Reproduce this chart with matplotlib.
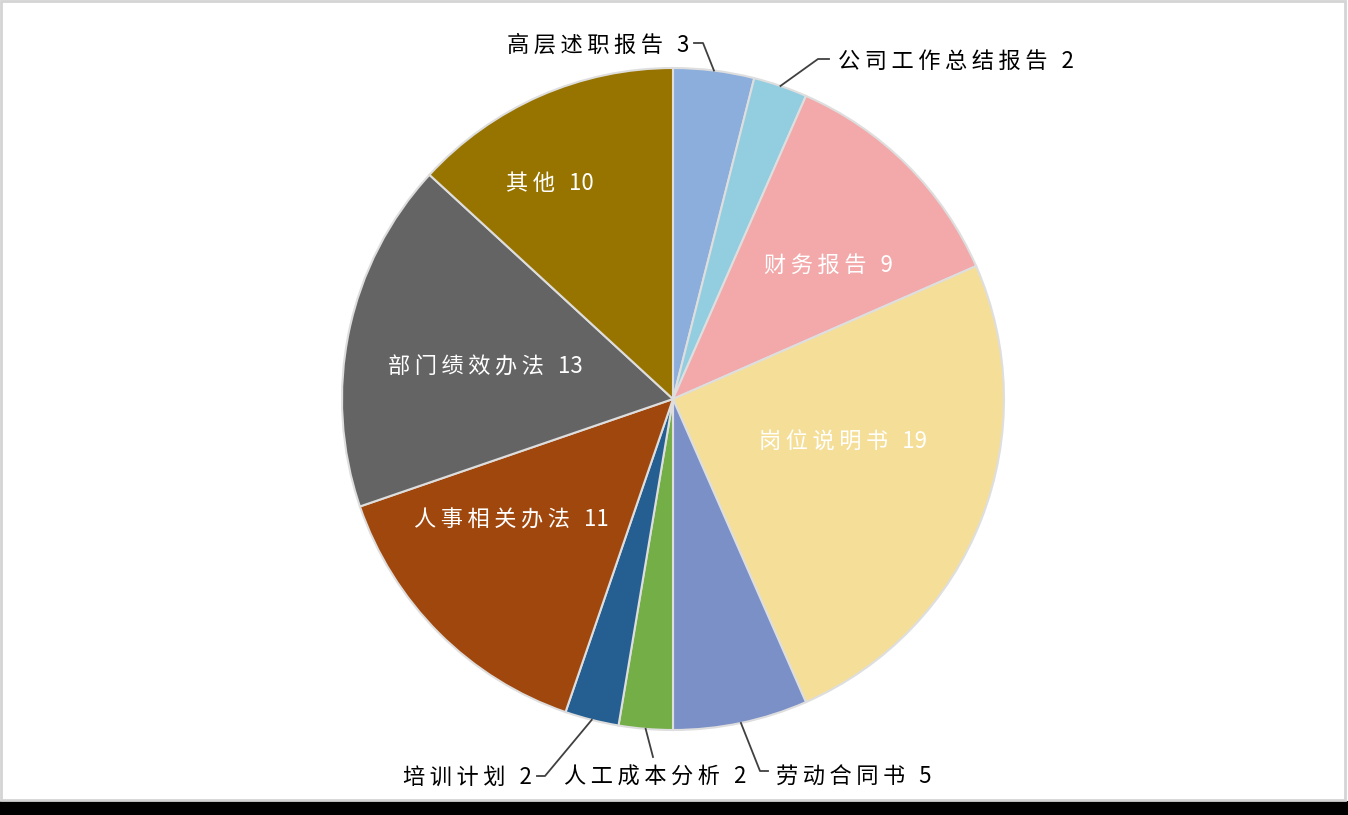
import numpy as np
import matplotlib
matplotlib.use('Agg')
import matplotlib.pyplot as plt
from matplotlib import font_manager
from matplotlib.patches import Rectangle

names = [f.name for f in font_manager.fontManager.ttflist]
cjk = 'Noto Serif CJK SC' if 'Noto Serif CJK SC' in names else 'Noto Sans CJK SC'
plt.rcParams['font.family'] = [cjk, 'DejaVu Sans']

# data
categories = ['高层述职报告', '公司工作总结报告', '财务报告', '岗位说明书', '劳动合同书',
              '人工成本分析', '培训计划', '人事相关办法', '部门绩效办法', '其他']
counts = [3, 2, 9, 19, 5, 2, 2, 11, 13, 10]
colors = ['#8caedc', '#93cde0', '#f3a8aa', '#f5df98', '#7b90c7',
          '#74ae47', '#255e90', '#a0470e', '#646464', '#977300']

W, H = 1348, 815
cx, cy, R = 673, H - 399, 331

fig = plt.figure(figsize=(W / 100, H / 100), dpi=100)
fig.patch.set_facecolor('white')
# frame + shadow strip at bottom
fig.patches.append(Rectangle((0, 0), 1, 14 / H, transform=fig.transFigure,
                             facecolor='black', edgecolor='none', zorder=-1))
fig.patches.append(Rectangle((1 / W, 15 / H), 1344 / W, (H - 16) / H, transform=fig.transFigure,
                             facecolor='white', edgecolor='#d4d4d4', lw=2, zorder=-1))

ax = fig.add_axes([0, 0, 1, 1])

wedges, _ = ax.pie(counts, colors=colors, startangle=90, counterclock=False,
                   center=(cx, cy), radius=R, frame=True,
                   wedgeprops=dict(edgecolor='#dedede', linewidth=1.5))
ax.set_xlim(0, W)
ax.set_ylim(0, H)
ax.set_aspect('equal')
ax.axis('off')

def mid_point(i):
    w = wedges[i]
    a = np.deg2rad((w.theta1 + w.theta2) / 2)
    return cx + R * np.cos(a), cy + R * np.sin(a)

def label(i):
    # spread the characters a little, like the original's letter spacing
    return '\u2009'.join(categories[i]) + '\u2009 \u2009' + str(counts[i])

fs = 16
# inside labels (white), pixel positions from top
inside = {2: (828, 266), 3: (843, 442), 7: (511, 520), 8: (485, 367), 9: (550, 184)}
for i, (x, y) in inside.items():
    ax.text(x, H - y, label(i), color='white', fontsize=fs, ha='center', va='center')

# outside labels: text pos, alignment, elbow points
outside = {
    0: ((689, 45), 'right', [(703, 43), (694, 43)]),
    1: ((838, 61), 'left', [(818, 59), (829, 59)]),
    4: ((776, 777), 'left', [(760, 771), (768, 771)]),
    5: ((655, 777), 'center', [(653, 757)]),
    6: ((532, 777), 'right', [(545, 776), (537, 776)]),
}
for i, ((tx, ty), ha, pts) in outside.items():
    ax.text(tx, H - ty, label(i), color='black', fontsize=fs, ha=ha, va='center')
    x0, y0 = mid_point(i)
    xs = [x0] + [p[0] for p in pts]
    ys = [y0] + [H - p[1] for p in pts]
    ax.plot(xs, ys, color='#404040', lw=1.3)

fig.savefig('out.png', dpi=100)
